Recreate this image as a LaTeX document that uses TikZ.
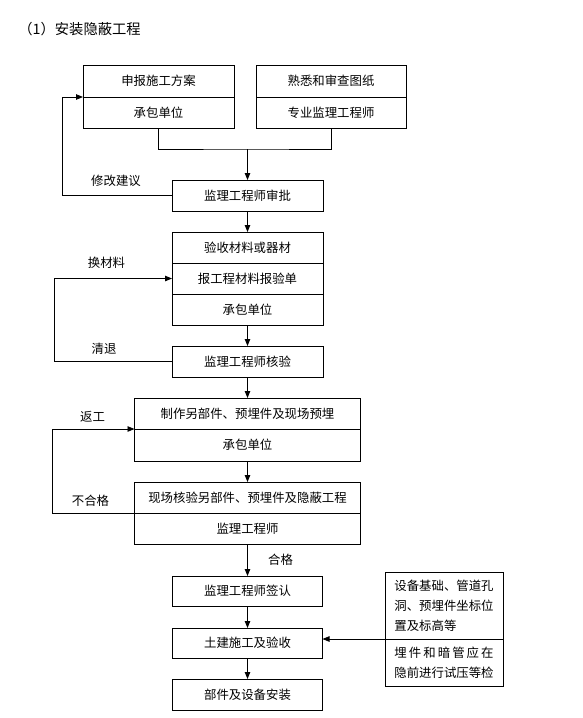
\documentclass[tikz,border=0pt]{standalone}
\usepackage{fontspec}
\setmainfont{Noto Sans CJK SC}
\usetikzlibrary{positioning}
\usetikzlibrary{arrows.meta}

\begin{document}
\begin{tikzpicture}[x=1pt, y=1pt,
		font=\fontsize{12.4}{15}\selectfont, line width=0.8pt,
		>={Triangle[length=7pt, width=5.5pt]},
		box/.style={draw, minimum width=151pt, minimum height=31pt, inner sep=0pt, outer sep=0pt},
		widebox/.style={box, minimum width=226pt},
		notebox/.style={draw, minimum width=118pt, align=left, inner sep=0pt, outer sep=0pt,
			font=\fontsize{12.4}{20}\selectfont},
		lbl/.style={inner sep=0pt}
	]
	\useasboundingbox (0,0) rectangle (583,-718);
	
	\node[lbl, anchor=west, font=\fontsize{14.3}{16}\selectfont] (title) at (18,-29) {（1）安装隐蔽工程};
	
	%top boxes
	\node[box, minimum height=32pt] (plan) at (158.5,-81) {申报施工方案};
	\node[box, below=0pt of plan] (planby) {承包单位};
	\node[box, minimum width=150pt, minimum height=32pt] (paper) at (331,-81) {熟悉和审查图纸};
	\node[box, minimum width=150pt, below=0pt of paper] (paperby) {专业监理工程师};
	\coordinate (join) at (247.5,-149);
	
	%main chain
	\node[box] (approve) at (247.5,-195.5) {监理工程师审批};
	\node[box, below=21pt of approve] (mat) {验收材料或器材};
	\node[box, below=0pt of mat] (matform) {报工程材料报验单};
	\node[box, below=0pt of matform] (matby) {承包单位};
	\node[box, below=21pt of matby] (check) {监理工程师核验};
	\node[widebox, below=21pt of check] (make) {制作另部件、预埋件及现场预埋};
	\node[widebox, minimum height=32pt, below=0pt of make] (makeby) {承包单位};
	\node[widebox, below=21pt of makeby] (site) {现场核验另部件、预埋件及隐蔽工程};
	\node[widebox, below=0pt of site] (siteby) {监理工程师};
	\node[box, minimum width=150pt, minimum height=30pt, below=32pt of siteby] (sign) {监理工程师签认};
	\node[box, minimum width=150pt, minimum height=30pt, below=22pt of sign] (civil) {土建施工及验收};
	\node[box, minimum width=150pt, below=21pt of civil] (install) {部件及设备安装};
	
	%side note
	\node[notebox, minimum height=67pt] (note) at (444,-605.5) {设备基础、管道孔\\洞、预埋件坐标位\\置及标高等};
	\node[notebox, minimum height=47pt, below=0pt of note] (notebot)
		{\makebox[8em][l]{埋\hfill 件\hfill 和\hfill 暗\hfill 管\hfill 应\hfill 在}\\隐前进行试压等检};
	
	%labels
	\node[lbl] (fixlbl) at (116,-181) {修改建议};
	\node[lbl] (swaplbl) at (106.5,-263) {换材料};
	\node[lbl] (backlbl) at (104,-349) {清退};
	\node[lbl] (redolbl) at (92.5,-417) {返工};
	\node[lbl] (faillbl) at (90.5,-501) {不合格};
	\node[lbl] (passlbl) at (280.5,-560) {合格};
	
	%flow
	\draw (planby.south) |- (join) -| (paperby.south);
	\draw[->] (join) -- (approve.north);
	\draw[->] (approve.south) -- (mat.north);
	\draw[->] (matby.south) -- (check.north);
	\draw[->] (check.south) -- (make.north);
	\draw[->] (makeby.south) -- (site.north);
	\draw[->] (siteby.south) -- (sign.north);
	\draw[->] (sign.south) -- (civil.north);
	\draw[->] (civil.south) -- (install.north);
	\draw[->] (note.south west) -- (civil.east |- note.south west);
	
	%feedback
	\draw[->] (approve.west) -| ([xshift=-21pt]plan.south west) -- (plan.south west);
	\draw[->] (check.west) -| ([xshift=-118pt]matform.west) -- (matform.west);
	\draw[->] (siteby.north west) -| ([xshift=-82pt]makeby.north west) -- (makeby.north west);
\end{tikzpicture}
\end{document}
